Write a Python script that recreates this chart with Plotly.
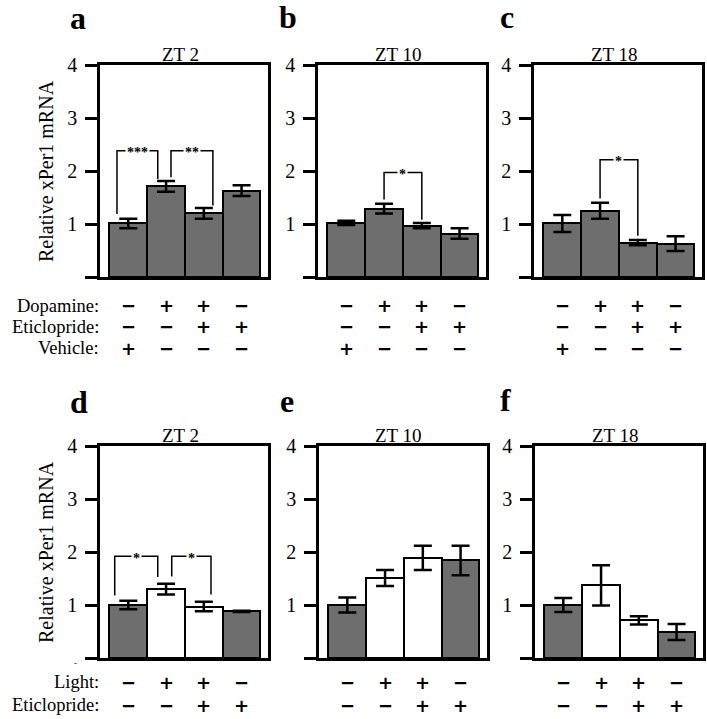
import plotly.graph_objects as go

W, H = 707, 719

# bar positions (four treatment groups per panel)
bar_pos = [0, 1, 2, 3]

# a-c: dopamine / eticlopride experiment
zt2_dop = [1.01, 1.71, 1.20, 1.63]
zt2_dop_err = [0.09, 0.10, 0.10, 0.10]
zt10_dop = [1.02, 1.29, 0.97, 0.82]
zt10_dop_err = [0.04, 0.09, 0.05, 0.10]
zt18_dop = [1.01, 1.25, 0.65, 0.63]
zt18_dop_err = [0.16, 0.15, 0.05, 0.14]

# d-f: light / eticlopride experiment
zt2_light = [1.00, 1.30, 0.97, 0.88]
zt2_light_err = [0.08, 0.10, 0.09, 0.01]
zt10_light = [1.00, 1.51, 1.89, 1.84]
zt10_light_err = [0.14, 0.15, 0.23, 0.28]
zt18_light = [1.00, 1.37, 0.71, 0.49]
zt18_light_err = [0.13, 0.38, 0.08, 0.15]

# treatment table
dopamine = ["−", "+", "+", "−"]
eticlopride = ["−", "−", "+", "+"]
vehicle = ["+", "−", "−", "−"]
light = ["−", "+", "+", "−"]

y_ticks = [0, 1, 2, 3, 4]
y_ticktext = ["", "1", "2", "3", "4"]

GREY = "#6e6e6e"
fill_dop = [GREY] * 4
fill_light = [GREY, "white", "white", GREY]

# significance brackets: (x left, x right, left foot, right foot, top, stars)
brackets = {
    1: [(-0.30, 0.78, 1.19, 1.85, 2.38, "***"), (1.13, 2.24, 1.88, 1.35, 2.38, "**")],
    2: [(1.0, 2.0, 1.46, 1.08, 1.97, "*")],
    3: [(1.0, 2.0, 1.48, 0.78, 2.21, "*")],
    4: [(-0.36, 0.78, 1.18, 1.53, 1.92, "*"), (1.15, 2.19, 1.54, 1.20, 1.92, "*")],
}

panels = [
    dict(letter="a", title="ZT 2", y=zt2_dop, err=zt2_dop_err, fill=fill_dop, x0=100, top=65, lx=78, ly=18),
    dict(letter="b", title="ZT 10", y=zt10_dop, err=zt10_dop_err, fill=fill_dop, x0=318, top=65, lx=288, ly=17),
    dict(letter="c", title="ZT 18", y=zt18_dop, err=zt18_dop_err, fill=fill_dop, x0=534, top=65, lx=507, ly=17),
    dict(letter="d", title="ZT 2", y=zt2_light, err=zt2_light_err, fill=fill_light, x0=100, top=446, lx=79, ly=402),
    dict(letter="e", title="ZT 10", y=zt10_light, err=zt10_light_err, fill=fill_light, x0=319, top=446, lx=287, ly=401),
    dict(letter="f", title="ZT 18", y=zt18_light, err=zt18_light_err, fill=fill_light, x0=535, top=446, lx=505, ly=400),
]
PW, PH = 168, 212

SERIF = "Liberation Serif"
fig = go.Figure()
ann = []
layout = {}


def note(**kw):
    kw.setdefault("showarrow", False)
    kw.setdefault("xanchor", "center")
    kw.setdefault("yanchor", "middle")
    ann.append(kw)


for i, p in enumerate(panels, start=1):
    xa, ya = f"x{i}", f"y{i}"
    fig.add_trace(go.Bar(
        x=bar_pos, y=p["y"], width=1,
        marker=dict(color=p["fill"], line=dict(color="black", width=2)),
        error_y=dict(type="data", array=p["err"], color="black", thickness=2.5, width=9),
        xaxis=xa, yaxis=ya, showlegend=False, hoverinfo="skip"))

    for (xl, xr, yl, yr, yt, stars) in brackets.get(i, []):
        fig.add_trace(go.Scatter(
            x=[xl, xl, xr, xr], y=[yl, yt, yt, yr], mode="lines",
            line=dict(color="black", width=1.5),
            xaxis=xa, yaxis=ya, showlegend=False, hoverinfo="skip"))
        note(x=(xl + xr) / 2, y=yt, xref=xa, yref=ya, text="<b>" + stars + "</b>",
             bgcolor="white", borderpad=1, yshift=-2,
             font=dict(family=SERIF, size=14, color="black"))

    layout[f"xaxis{i}"] = dict(
        domain=[p["x0"] / W, (p["x0"] + PW) / W], anchor=ya, range=[-0.75, 3.7],
        showline=True, mirror=True, linewidth=2.5, linecolor="black", automargin=False,
        showticklabels=False, ticks="", showgrid=False, zeroline=False, fixedrange=True)
    layout[f"yaxis{i}"] = dict(
        domain=[1 - (p["top"] + PH) / H, 1 - p["top"] / H], anchor=xa, range=[0, 4],
        tickvals=y_ticks, ticktext=y_ticktext, ticks="outside", ticklen=12, tickwidth=2.5,
        tickcolor="black", showline=True, mirror=True, linewidth=2.5, linecolor="black",
        tickfont=dict(family=SERIF, size=20, color="black"), ticklabelstandoff=4,
        automargin=False, showgrid=False, zeroline=False, fixedrange=True)

    # panel title and letter
    note(x=(p["x0"] + PW / 2 - 4) / W, y=1 - p["top"] / H, xref="paper", yref="paper",
         text=p["title"], yanchor="bottom", yshift=-2,
         font=dict(family=SERIF, size=19, color="black"))
    note(x=p["lx"] / W, y=1 - p["ly"] / H, xref="paper", yref="paper",
         text="<b>" + p["letter"] + "</b>",
         font=dict(family=SERIF, size=32, color="black"))

# y axis titles
for cy in [171, 552]:
    note(x=46 / W, y=1 - cy / H, xref="paper", yref="paper", textangle=-90,
         text="Relative xPer1 mRNA", font=dict(family=SERIF, size=20, color="black"))

# treatment tables
top_rows = [("Dopamine:", dopamine, 306), ("Eticlopride:", eticlopride, 327), ("Vehicle:", vehicle, 348)]
bottom_rows = [("Light:", light, 682), ("Eticlopride:", eticlopride, 705)]

for rows, axes in [(top_rows, [1, 2, 3]), (bottom_rows, [4, 5, 6])]:
    for label, signs, ry in rows:
        note(x=101 / W, y=1 - ry / H, xref="paper", yref="paper", text=label,
             xanchor="right", font=dict(family=SERIF, size=18.5, color="black"))
        for k in axes:
            for xp, s in zip(bar_pos, signs):
                note(x=xp, y=1 - ry / H, xref=f"x{k}", yref="paper",
                     text=s, font=dict(family="DejaVu Sans", size=18, color="black", weight="bold"))

# small stray mark left of panel d
note(x=75 / W, y=1 - 663 / H, xref="paper", yref="paper", text="-",
     font=dict(family=SERIF, size=9, color="black"))

fig.update_layout(
    template="none",
    width=W, height=H, margin=dict(l=0, r=0, t=0, b=0),
    paper_bgcolor="white", plot_bgcolor="white",
    bargap=0, annotations=ann, **layout)

fig.write_html("out.html", config={"displayModeBar": False},
               post_script="document.body.style.margin='0px';")
